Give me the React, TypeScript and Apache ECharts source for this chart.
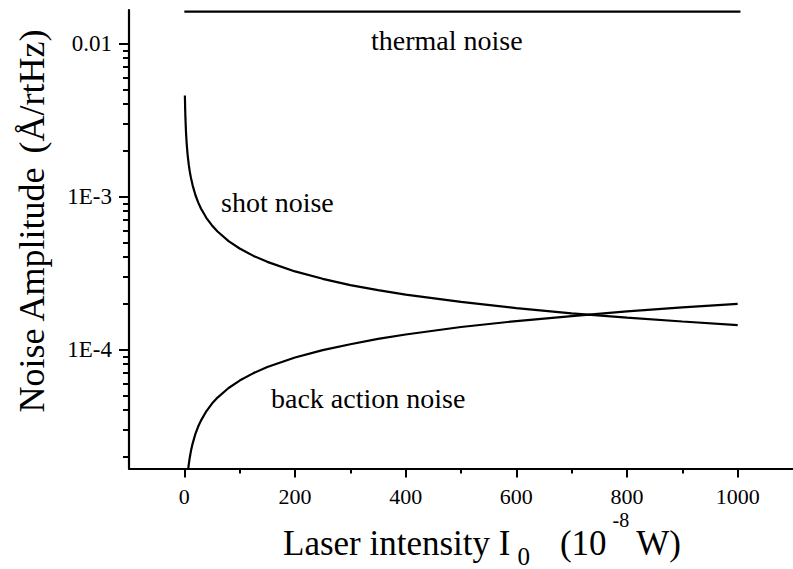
import React, { useEffect, useRef } from "react";
import * as echarts from "echarts";

// ---- data ----
const thermalI = [0, 1005];
const thermalNoise = [0.0161, 0.0161];

const shotI = [1, 1.5, 2, 3, 4, 5, 6, 8, 10, 12, 15, 20, 25, 30, 40, 50, 60, 80, 100, 125, 150, 200, 250, 300, 350, 400, 500, 600, 700, 800, 900, 1000];
const shotNoise = [4.56e-3, 3.73e-3, 3.23e-3, 2.63e-3, 2.28e-3, 2.04e-3, 1.86e-3, 1.61e-3, 1.44e-3, 1.32e-3, 1.18e-3, 1.02e-3, 9.13e-4, 8.33e-4, 7.21e-4, 6.45e-4, 5.89e-4, 5.1e-4, 4.56e-4, 4.08e-4, 3.73e-4, 3.23e-4, 2.89e-4, 2.63e-4, 2.44e-4, 2.28e-4, 2.04e-4, 1.86e-4, 1.72e-4, 1.61e-4, 1.52e-4, 1.44e-4];

const backI = [5, 6, 8, 10, 12, 15, 20, 25, 30, 40, 50, 60, 80, 100, 125, 150, 200, 250, 300, 350, 400, 500, 600, 700, 800, 900, 1000];
const backNoise = [1.4e-5, 1.53e-5, 1.77e-5, 1.98e-5, 2.17e-5, 2.42e-5, 2.8e-5, 3.13e-5, 3.42e-5, 3.95e-5, 4.42e-5, 4.84e-5, 5.59e-5, 6.25e-5, 6.99e-5, 7.66e-5, 8.84e-5, 9.89e-5, 1.08e-4, 1.17e-4, 1.25e-4, 1.4e-4, 1.53e-4, 1.65e-4, 1.77e-4, 1.88e-4, 1.98e-4];

const xMajorTicks = [0, 200, 400, 600, 800, 1000];
const xTickLabels = ["0", "200", "400", "600", "800", "1000"];
const xMinorTicks = [100, 300, 500, 700, 900];
const yMajorTicks = [1e-4, 1e-3, 1e-2];
const yTickLabels = ["1E-4", "1E-3", "0.01"];
const yMinorTicks = [
  2e-5, 3e-5, 4e-5, 5e-5, 6e-5, 7e-5, 8e-5, 9e-5,
  2e-4, 3e-4, 4e-4, 5e-4, 6e-4, 7e-4, 8e-4, 9e-4,
  2e-3, 3e-3, 4e-3, 5e-3, 6e-3, 7e-3, 8e-3, 9e-3,
];

const xMin = -100;
const xMax = 1100;
const yMin = 1.664e-5;
const yMax = 0.01651;

const FONT = "Liberation Serif";

function zip(xs: number[], ys: number[]) {
  return xs.map((x, i) => [x, ys[i]]);
}

export default function App() {
  const ref = useRef<HTMLDivElement>(null);

  useEffect(() => {
    if (!ref.current) return;
    const chart = echarts.init(ref.current, null, { renderer: "svg" });

    const yLabelFormatter = (v: number) => {
      const e = Math.round(Math.log10(v));
      const idx = yMajorTicks.findIndex((t) => Math.round(Math.log10(t)) === e);
      return idx >= 0 ? yTickLabels[idx] : "";
    };
    const xLabelFormatter = (v: number) => {
      const idx = xMajorTicks.findIndex((t) => Math.abs(t - v) < 1e-6);
      return idx >= 0 ? xTickLabels[idx] : "";
    };

    const lineSeries = (name: string, data: number[][]) => ({
      name,
      type: "line",
      data,
      xAxisIndex: 0,
      yAxisIndex: 0,
      showSymbol: false,
      symbol: "none",
      clip: true,
      silent: true,
      lineStyle: { color: "#000", width: 2.2 },
      itemStyle: { color: "#000" },
    });

    const plainText = (text: string, x: number, y: number) => ({
      type: "text",
      x,
      y,
      silent: true,
      style: {
        text,
        fill: "#000",
        fontFamily: FONT,
        fontSize: 28,
        align: "left",
        verticalAlign: "middle",
        textAlign: "left",
        textVerticalAlign: "middle",
      },
    });

    chart.setOption({
      animation: false,
      backgroundColor: "#fff",
      textStyle: { fontFamily: FONT, color: "#000" },
      grid: { left: 129, right: -4, top: 10, bottom: 100.5, containLabel: false },
      xAxis: [
        {
          type: "value",
          min: xMin,
          max: xMax,
          position: "bottom",
          axisLine: { show: true, onZero: false, lineStyle: { color: "#000", width: 2.2 } },
          axisTick: { show: true, customValues: xMajorTicks, length: 9, lineStyle: { color: "#000", width: 2 } },
          axisLabel: {
            show: true,
            customValues: xMajorTicks,
            formatter: xLabelFormatter,
            color: "#000",
            fontFamily: FONT,
            fontSize: 22,
            margin: 17,
          },
          splitLine: { show: false },
        },
        {
          type: "value",
          min: xMin,
          max: xMax,
          position: "bottom",
          offset: 0,
          axisLine: { show: false, onZero: false },
          axisTick: { show: true, customValues: xMinorTicks, length: 5, lineStyle: { color: "#000", width: 2 } },
          axisLabel: { show: false },
          splitLine: { show: false },
        },
      ],
      yAxis: [
        {
          type: "log",
          logBase: 10,
          min: yMin,
          max: yMax,
          position: "left",
          axisLine: { show: true, onZero: false, lineStyle: { color: "#000", width: 2.2 } },
          axisTick: { show: true, customValues: yMajorTicks, length: 10, lineStyle: { color: "#000", width: 2 } },
          axisLabel: {
            show: true,
            customValues: yMajorTicks,
            formatter: yLabelFormatter,
            color: "#000",
            fontFamily: FONT,
            fontSize: 23,
            margin: 17,
          },
          splitLine: { show: false },
          minorTick: { show: false },
        },
        {
          type: "log",
          logBase: 10,
          min: yMin,
          max: yMax,
          position: "left",
          offset: 0,
          axisLine: { show: false, onZero: false },
          axisTick: { show: true, customValues: yMinorTicks, length: 6, lineStyle: { color: "#000", width: 2 } },
          axisLabel: { show: false },
          splitLine: { show: false },
        },
      ],
      series: [
        lineSeries("thermal noise", zip(thermalI, thermalNoise)),
        lineSeries("shot noise", zip(shotI, shotNoise)),
        lineSeries("back action noise", zip(backI, backNoise)),
      ],
      graphic: [
        plainText("thermal noise", 371, 40.5),
        plainText("shot noise", 221, 202),
        plainText("back action noise", 271, 398.5),
        {
          type: "text",
          x: 31.5,
          y: 221.5,
          rotation: Math.PI / 2,
          silent: true,
          style: {
            text: "{a|Noise Amplitude}{b|(Å/rtHz)}",
            fill: "#000",
            align: "center",
            verticalAlign: "middle",
            textAlign: "center",
            textVerticalAlign: "middle",
            rich: {
              a: { fontFamily: FONT, fontSize: 36, fill: "#000", color: "#000" },
              b: { fontFamily: FONT, fontSize: 36, fill: "#000", color: "#000", padding: [0, 0, 0, 13] },
            },
          },
        },
        {
          type: "text",
          x: 283,
          y: 510,
          silent: true,
          style: {
            text: "{m|Laser intensity I}{sb|0}{m2|(10}{sp|-8}{m3|W)}",
            fill: "#000",
            align: "left",
            verticalAlign: "top",
            textAlign: "left",
            textVerticalAlign: "top",
            rich: {
              m: { fontFamily: FONT, fontSize: 35, lineHeight: 35, padding: [16, 0, 0, 0], verticalAlign: "top", fill: "#000", color: "#000" },
              sb: { fontFamily: FONT, fontSize: 25, lineHeight: 25, padding: [34, 0, 0, 7], verticalAlign: "top", fill: "#000", color: "#000" },
              m2: { fontFamily: FONT, fontSize: 35, lineHeight: 35, padding: [16, 0, 0, 30], verticalAlign: "top", fill: "#000", color: "#000" },
              sp: { fontFamily: FONT, fontSize: 20, lineHeight: 20, padding: [0, 0, 0, 6], verticalAlign: "top", fill: "#000", color: "#000" },
              m3: { fontFamily: FONT, fontSize: 35, lineHeight: 35, padding: [16, 0, 0, 7], verticalAlign: "top", fill: "#000", color: "#000" },
            },
          },
        },
      ],
    });

    return () => {
      chart.dispose();
    };
  }, []);

  return (
    <div
      ref={ref}
      style={{ position: "fixed", left: 0, top: 0, width: 793, height: 569, background: "#fff" }}
    />
  );
}
